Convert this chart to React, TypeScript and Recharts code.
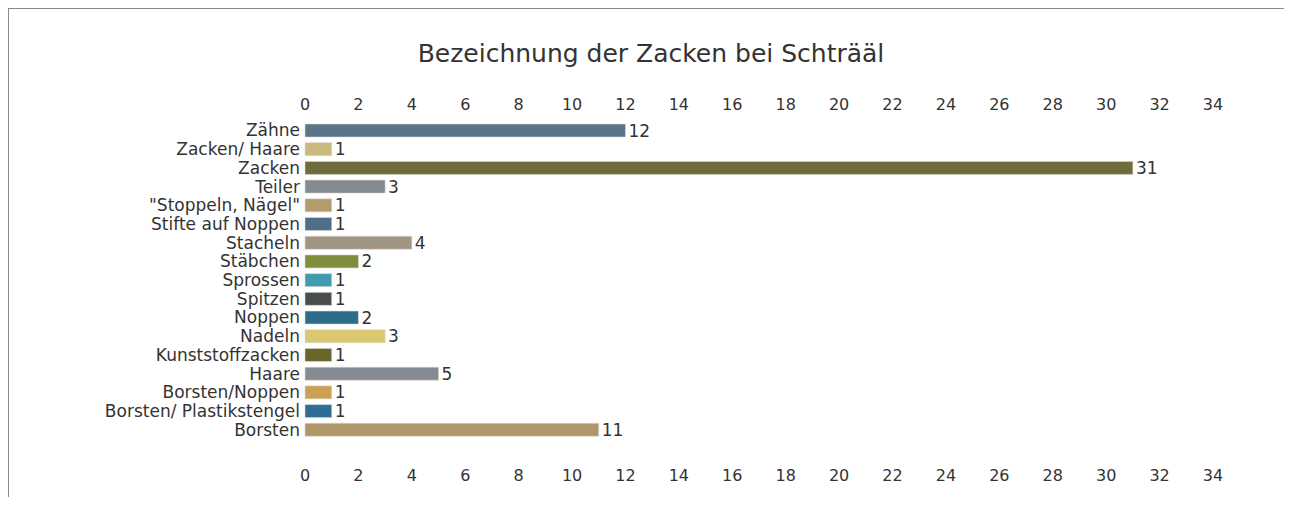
import React from 'react'
import { BarChart, Bar, XAxis, YAxis, Cell, LabelList } from 'recharts'

const categories = [
  'Zähne',
  'Zacken/ Haare',
  'Zacken',
  'Teiler',
  '"Stoppeln, Nägel"',
  'Stifte auf Noppen',
  'Stacheln',
  'Stäbchen',
  'Sprossen',
  'Spitzen',
  'Noppen',
  'Nadeln',
  'Kunststoffzacken',
  'Haare',
  'Borsten/Noppen',
  'Borsten/ Plastikstengel',
  'Borsten',
]

const counts = [12, 1, 31, 3, 1, 1, 4, 2, 1, 1, 2, 3, 1, 5, 1, 1, 11]

const xTicks = [0, 2, 4, 6, 8, 10, 12, 14, 16, 18, 20, 22, 24, 26, 28, 30, 32, 34]

const BAR_COLORS = [
  '#5b7489', '#c9b97f', '#6f6b3a', '#838a90', '#b39c6b', '#4f6f89',
  '#a09483', '#7f8d3d', '#3f9cb0', '#4a4d50', '#2f6b8b', '#dcc771',
  '#69662b', '#838a91', '#caa154', '#2f6e94', '#b19669',
]

const FONT = '"DejaVu Sans", Arial, sans-serif'
const TEXT = '#333333'

const data = categories.map((name, i) => ({ name, count: counts[i] }))

export default function App() {
  const tick = { fontSize: 16, fill: TEXT, fontFamily: FONT }
  return (
    <div
      style={{
        width: 1280,
        height: 488,
        borderTop: '1px solid #8a8a8a',
        borderLeft: '1px solid #8a8a8a',
        borderRight: '1px solid #b5b5b5',
        background: '#fff',
        position: 'relative',
      }}
    >
      <div
        style={{
          position: 'absolute',
          left: 0,
          right: 0,
          top: 30,
          textAlign: 'center',
          fontFamily: FONT,
          fontSize: 25,
          color: TEXT,
          paddingLeft: 4,
        }}
      >
        Bezeichnung der Zacken bei Schträäl
      </div>
      <BarChart
        width={1280}
        height={488}
        data={data}
        layout="vertical"
        barSize={13}
        margin={{ top: 12, right: 76, left: 0, bottom: 8 }}
      >
        <XAxis
          xAxisId="top"
          orientation="top"
          type="number"
          domain={[0, 34]}
          ticks={xTicks}
          height={100}
          axisLine={false}
          tickLine={false}
          tickSize={0}
          tickMargin={11}
          tick={tick}
          interval={0}
        />
        <XAxis
          xAxisId="bottom"
          orientation="bottom"
          type="number"
          domain={[0, 34]}
          ticks={xTicks}
          height={50}
          axisLine={false}
          tickLine={false}
          tickSize={0}
          tickMargin={31}
          tick={tick}
          interval={0}
        />
        <YAxis
          type="category"
          dataKey="name"
          width={296}
          axisLine={false}
          tickLine={false}
          tickSize={0}
          tickMargin={5}
          interval={0}
          tick={{ fontSize: 17, fill: TEXT, fontFamily: FONT }}
        />
        <YAxis yAxisId="ghost" type="category" dataKey="name" hide width={0} />
        <Bar
          xAxisId="bottom"
          yAxisId="ghost"
          dataKey="count"
          fill="transparent"
          fillOpacity={0}
          isAnimationActive={false}
        />
        <Bar xAxisId="top" dataKey="count" isAnimationActive={false}>
          {data.map((d, i) => (
            <Cell key={d.name} fill={BAR_COLORS[i]} stroke="#d8d8d0" strokeWidth={0.6} />
          ))}
          <LabelList
            dataKey="count"
            position="right"
            offset={3}
            style={{ fontSize: 17, fill: TEXT, fontFamily: FONT }}
          />
        </Bar>
      </BarChart>
    </div>
  )
}
